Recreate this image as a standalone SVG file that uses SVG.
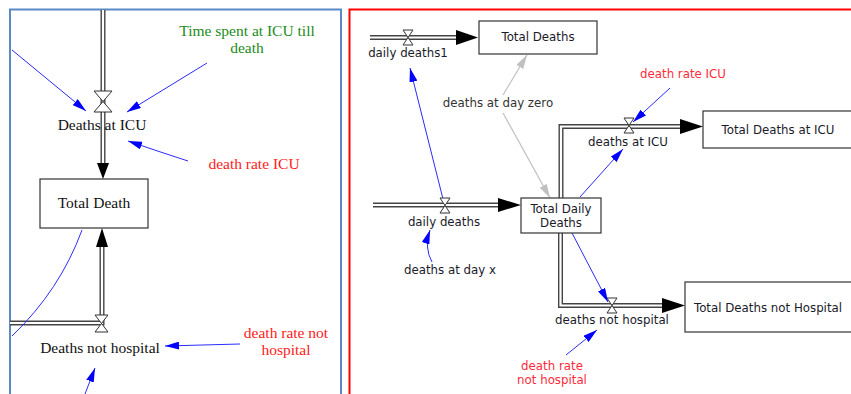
<svg xmlns="http://www.w3.org/2000/svg" width="851" height="394" viewBox="0 0 851 394">
<defs>
<marker id="ab" viewBox="0 0 14 8" refX="14" refY="4" markerWidth="14" markerHeight="8" markerUnits="userSpaceOnUse" orient="auto"><path d="M0,0 L14,4 L0,8 Z" fill="#0000ff"/></marker>
<marker id="ag" viewBox="0 0 14 8" refX="14" refY="4" markerWidth="14" markerHeight="8" markerUnits="userSpaceOnUse" orient="auto"><path d="M0,0 L14,4 L0,8 Z" fill="#c0c0c0"/></marker>
</defs>
<style>
.po{fill:none;stroke:#444;stroke-width:5}
.pi{fill:none;stroke:#fff;stroke-width:2.2}
.ph{fill:#000}
.b{fill:none;stroke:#2b2bff;stroke-width:1;marker-end:url(#ab)}
.g{fill:none;stroke:#c0c0c0;stroke-width:1.2;marker-end:url(#ag)}
.box{fill:#fff;stroke:#333;stroke-width:1.2}
.v{fill:#fff;stroke:#333;stroke-width:1}
.s{font-family:"Liberation Serif","Times New Roman",serif;font-size:15.5px;fill:#111;text-anchor:middle}
.ss{font-family:"DejaVu Sans",Verdana,sans-serif;font-size:11.8px;fill:#1a1a2a;text-anchor:middle}
.red{fill:#ff1a1a}
.red2{fill:#ff2a3a}
.grn{fill:#1a8c1a}
.gray{fill:#333}
</style>

<g id="panels">
<rect x="10" y="9.5" width="331" height="400" fill="none" stroke="#5a8ac6" stroke-width="2"/>
<rect x="349.5" y="9.5" width="520" height="400" fill="none" stroke="#ff0000" stroke-width="2"/>
</g>

<g id="connectors">
<path class="po" d="M103,10 V164"/><path class="pi" d="M103,10 V164"/>
<path class="ph" d="M97,163 L103,179 L109,163 Z"/>
<path class="po" d="M10,323 H102 V246"/><path class="pi" d="M10,323 H102 V246"/>
<path class="ph" d="M96,247 L102,228 L108,247 Z"/>
<path class="b" d="M12,50 L86,111"/>
<path class="b" d="M207,63 L127,112"/>
<path class="b" d="M188,161 Q160,152 128,141"/>
<path fill="none" stroke="#2b2bff" stroke-width="1" d="M82,230 Q60,290 12,336"/>
<path class="b" d="M240,344 L165,346"/>
<path class="b" d="M85,394 L95,368"/>
<path class="po" d="M370,37.5 H457"/><path class="pi" d="M370,37.5 H457"/>
<path class="ph" d="M456,30 L478,37.5 L456,45 Z"/>
<path class="po" d="M373,205 H499"/><path class="pi" d="M373,205 H499"/>
<path class="ph" d="M498,198 L521,205 L498,212 Z"/>
<path class="po" d="M561,198 V126.5 H681"/><path class="pi" d="M561,198 V126.5 H681"/>
<path class="ph" d="M680,119 L703,126.5 L680,134 Z"/>
<path class="po" d="M560.5,233 V305.5 H663"/><path class="pi" d="M560.5,233 V305.5 H663"/>
<path class="ph" d="M662,298 L685,305.5 L662,313 Z"/>
<path class="b" d="M443,199 L410,68"/>
<path class="g" d="M503,95 L527,55"/>
<path class="g" d="M503,113 L550,198"/>
<path class="b" d="M670,88 L633,122"/>
<path class="b" d="M580,197 L623,149"/>
<path class="b" d="M572,233 L608,302"/>
<path class="b" d="M432,262 Q424,248 430,230"/>
<path class="b" d="M566,355 L597,330"/>
</g>

<g id="valve-deaths-at-icu"><path class="v" d="M94,91 H112 L94,112 H112 Z"/><text class="s" x="102" y="130">Deaths at ICU</text></g>
<g id="total-death"><rect class="box" x="40" y="179" width="108" height="49"/><text class="s" x="94" y="208">Total Death</text></g>
<g id="valve-deaths-not-hospital"><path class="v" d="M95,315 H108 L95,332 H108 Z"/><text class="s" x="100" y="353">Deaths not hospital</text></g>
<g id="time-spent"><text class="s grn" x="247" y="36">Time spent at ICU till</text><text class="s grn" x="247" y="53">death</text></g>
<g id="death-rate-icu-l"><text class="s red" x="254" y="169">death rate ICU</text></g>
<g id="death-rate-not-hospital-l"><text class="s red" x="286" y="338">death rate not</text><text class="s red" x="286" y="355">hospital</text></g>

<g id="valve-daily-deaths1"><path class="v" d="M403,30 H413 L403,45 H413 Z"/><text class="ss" x="408" y="57">daily deaths1</text></g>
<g id="total-deaths"><rect class="box" x="479" y="21" width="118" height="33"/><text class="ss" x="538" y="41">Total Deaths</text></g>
<g id="deaths-at-day-zero"><text class="ss gray" x="498" y="107">deaths at day zero</text></g>
<g id="death-rate-icu-r"><text class="ss red2" x="683" y="78">death rate ICU</text></g>
<g id="valve-deaths-at-icu-r"><path class="v" d="M624,118 H634 L624,133 H634 Z"/><text class="ss" x="628" y="146">deaths at ICU</text></g>
<g id="total-deaths-at-icu"><rect class="box" x="703" y="111" width="160" height="37"/><text class="ss" x="778" y="134">Total Deaths at ICU</text></g>
<g id="valve-daily-deaths"><path class="v" d="M440,198 H450 L440,213 H450 Z"/><text class="ss" x="444" y="226">daily deaths</text></g>
<g id="total-daily-deaths"><rect class="box" x="521" y="198" width="80" height="35"/><text class="ss" x="561" y="213">Total Daily</text><text class="ss" x="561" y="227">Deaths</text></g>
<g id="deaths-at-day-x"><text class="ss" x="450" y="274">deaths at day x</text></g>
<g id="valve-deaths-not-hospital-r"><path class="v" d="M607,298 H617 L607,313 H617 Z"/><text class="ss" x="612" y="324">deaths not hospital</text></g>
<g id="total-deaths-not-hospital"><rect class="box" x="685" y="282" width="180" height="50"/><text class="ss" x="768" y="312">Total Deaths not Hospital</text></g>
<g id="death-rate-not-hospital-r"><text class="ss red2" x="552" y="370">death rate</text><text class="ss red2" x="552" y="384">not hospital</text></g>
</svg>
